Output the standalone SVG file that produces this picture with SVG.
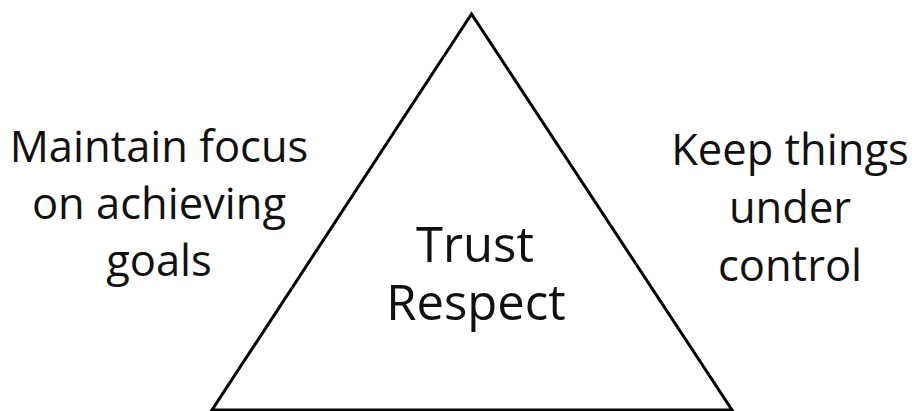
<svg xmlns="http://www.w3.org/2000/svg" width="912" height="411" viewBox="0 0 912 411">
  <style>
    .lbl { font-family: "Open Sans", "Liberation Sans", sans-serif; fill: #111; text-anchor: middle; }
    .side { font-size: 43.5px; }
    .core { font-size: 49px; }
    .edge { fill: none; stroke: #000; stroke-width: 3; stroke-linejoin: miter; }
  </style>
  <rect width="912" height="411" fill="#fff"/>
  <g id="triangle">
    <polygon class="edge" points="471.5,14 212,410 732,410"/>
    <text class="lbl core" x="475" y="262">Trust</text>
    <text class="lbl core" x="476" y="320">Respect</text>
  </g>
  <g id="focus">
    <text class="lbl side" x="159" y="162">Maintain focus</text>
    <text class="lbl side" x="159" y="219">on achieving</text>
    <text class="lbl side" x="159" y="276">goals</text>
  </g>
  <g id="control">
    <text class="lbl side" x="790" y="165">Keep things</text>
    <text class="lbl side" x="790" y="223">under</text>
    <text class="lbl side" x="790" y="281">control</text>
  </g>
</svg>
